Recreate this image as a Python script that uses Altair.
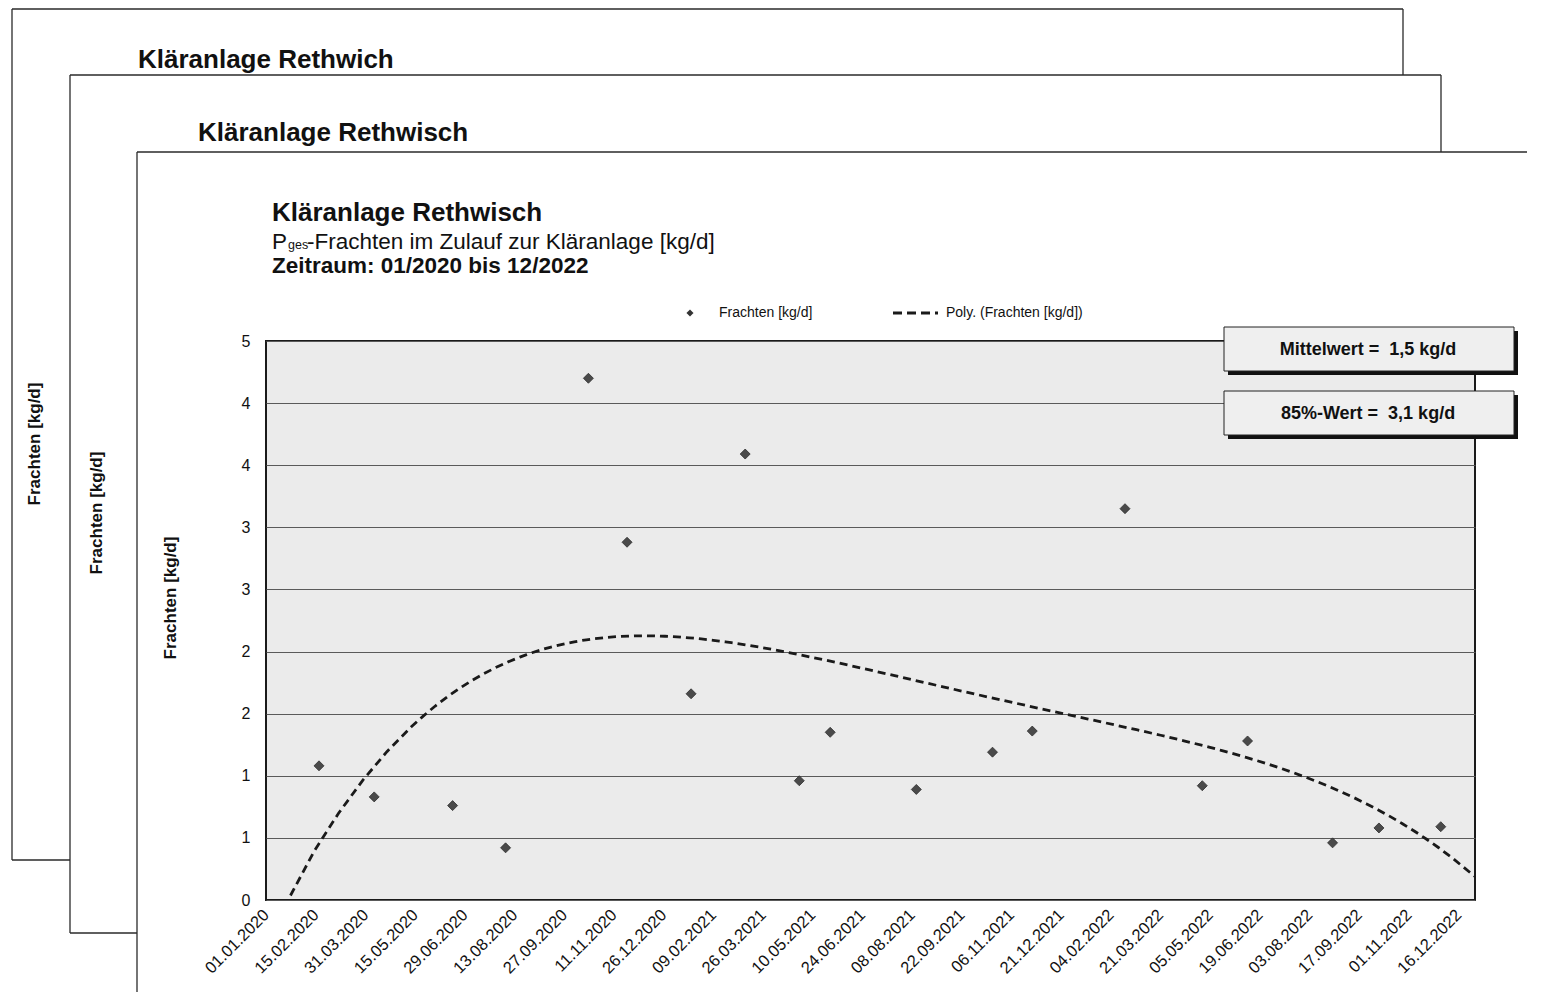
import altair as alt
import pandas as pd

# ---------------- data ----------------
sample_dates = ["2020-02-18", "2020-04-08", "2020-06-18", "2020-08-05", "2020-10-19",
                "2020-11-23", "2021-01-20", "2021-03-10", "2021-04-28", "2021-05-26",
                "2021-08-12", "2021-10-20", "2021-11-25", "2022-02-17", "2022-04-28",
                "2022-06-08", "2022-08-24", "2022-10-05", "2022-11-30"]
loads_kg_d = [1.08, 0.83, 0.76, 0.42, 4.20, 2.88, 1.66, 3.59, 0.96, 1.35,
              0.89, 1.19, 1.36, 3.15, 0.92, 1.28, 0.46, 0.58, 0.59]
y_tick_values = [0, 0.5, 1, 1.5, 2, 2.5, 3, 3.5, 4, 4.5]
axis_start = "2020-01-01"
axis_end = "2022-12-31"
tick_step_days = 45
trend_order = 4

title_main = "Kläranlage Rethwisch"
title_page1 = "Kläranlage Rethwich"
title_page2 = "Kläranlage Rethwisch"
y_title = "Frachten [kg/d]"
legend_points = "Frachten [kg/d]"
legend_trend = "Poly. (Frachten [kg/d])"
mean_text = "Mittelwert =\u00a0 1,5 kg/d"
p85_text = "85%-Wert =\u00a0 3,1 kg/d"

start = pd.Timestamp(axis_start)
end_day = (pd.Timestamp(axis_end) - start).days
df = pd.DataFrame({"date": pd.to_datetime(sample_dates), "load": loads_kg_d})
df["day"] = (df["date"] - start).dt.days
x_tick_days = list(range(0, end_day, tick_step_days))

# ---------------- layout ----------------
FONT = "Liberation Sans"
W, H = 1209, 559
OX, OY = 266, 341          # page position of plot origin
PAD = {"left": OX - 8, "top": OY - 8, "right": 52, "bottom": 92}


def gx(px):
    return px - OX


def gy(py):
    return py - OY


one = pd.DataFrame({"k": [0]})


def txt(s, px, py, size, weight="normal", align="left", baseline="alphabetic", angle=0, color="#111"):
    return alt.Chart(one).mark_text(text=s, fontSize=size, fontWeight=weight, align=align,
                                    baseline=baseline, angle=angle, font=FONT, color=color).encode(
        x=alt.value(gx(px)), y=alt.value(gy(py)))


def seg(x1, y1, x2, y2, color="#2a2a2a", width=1.3, dash=None):
    kw = dict(color=color, strokeWidth=width)
    if dash:
        kw["strokeDash"] = dash
    return alt.Chart(one).mark_rule(**kw).encode(
        x=alt.value(gx(x1)), x2=alt.value(gx(x2)), y=alt.value(gy(y1)), y2=alt.value(gy(y2)))


def box(x1, y1, x2, y2, fill, stroke=None, sw=0):
    kw = dict(fill=fill)
    if stroke:
        kw.update(stroke=stroke, strokeWidth=sw)
    return alt.Chart(one).mark_rect(**kw).encode(
        x=alt.value(gx(x1)), x2=alt.value(gx(x2)), y=alt.value(gy(y1)), y2=alt.value(gy(y2)))


# stacked page outlines (visible parts only)
frames = [
    seg(12, 9, 1403, 9), seg(12, 9, 12, 860), seg(1403, 9, 1403, 75), seg(12, 860, 70, 860),
    seg(70, 75, 1441, 75), seg(70, 75, 70, 933), seg(1441, 75, 1441, 152), seg(70, 933, 137, 933),
    seg(137, 152, 1560, 152), seg(137, 152, 137, 1010),
]

page_texts = [
    txt(title_page1, 138, 68, 26, "bold"),
    txt(title_page2, 198, 141, 26, "bold"),
    txt(y_title, 35, 444, 17, "bold", align="center", baseline="middle", angle=270),
    txt(y_title, 97, 513, 17, "bold", align="center", baseline="middle", angle=270),
    txt(title_main, 272, 221, 26, "bold"),
    txt("P", 272, 249, 22.5),
    txt("ges", 288, 249, 12.5),
    txt("-Frachten im Zulauf zur Kläranlage [kg/d]", 307, 249, 22.5),
    txt("Zeitraum: 01/2020 bis 12/2022", 272, 273, 22.5, "bold"),
    txt(y_title, 171, 598, 17, "bold", align="center", baseline="middle", angle=270),
]

xscale = alt.Scale(domain=[0, end_day], nice=False, zero=False)
yscale = alt.Scale(domain=[0, 4.5], nice=False)

xaxis = alt.Axis(values=x_tick_days,
                 labelExpr="timeFormat(datetime(2020, 0, 1 + datum.value), '%d.%m.%Y')",
                 labelAngle=315, labelAlign="right", labelBaseline="middle", labelPadding=12,
                 labelFontSize=16.5, labelFont=FONT, labelColor="#111", labelFlush=False,
                 labelOverlap=False, ticks=False, domain=False, grid=False, title=None)
yaxis = alt.Axis(values=y_tick_values, format=".0f", labelFontSize=16, labelFont=FONT,
                 labelColor="#111", labelPadding=16, labelOverlap=False, ticks=False,
                 domain=False, grid=True, gridColor="#5a5a5a", gridWidth=1, title=None)

base = alt.Chart(df)

points = base.mark_point(shape="diamond", filled=True, size=100, color="#4a4a4a",
                         stroke="#2e2e2e", strokeWidth=0.8, opacity=1).encode(
    x=alt.X("day:Q", scale=xscale, axis=xaxis),
    y=alt.Y("load:Q", scale=yscale, axis=yaxis),
)

trend = base.transform_regression("day", "load", method="poly", order=trend_order,
                                  extent=[0, end_day]).mark_line(
    clip=True, color="#1a1a1a", strokeWidth=2.8, strokeDash=[8, 5]).encode(
    x=alt.X("day:Q", scale=xscale), y=alt.Y("load:Q", scale=yscale))

legend = [
    alt.Chart(one).mark_point(shape="diamond", filled=True, size=50, color="#333", opacity=1).encode(
        x=alt.value(gx(690)), y=alt.value(gy(313))),
    txt(legend_points, 719, 313, 14, baseline="middle"),
    seg(893, 313, 938, 313, color="#1a1a1a", width=2.8, dash=[9, 5]),
    txt(legend_trend, 946, 313, 14, baseline="middle"),
]

boxes = [
    box(1228, 331, 1518, 375, "#111"),
    box(1224, 327, 1514, 371, "#efefef", "#222", 1),
    txt(mean_text, 1368, 350, 18, "bold", align="center", baseline="middle"),
    box(1228, 395, 1518, 439, "#111"),
    box(1224, 391, 1514, 435, "#efefef", "#222", 1),
    txt(p85_text, 1368, 414, 18, "bold", align="center", baseline="middle"),
]

chart = alt.layer(*frames, *page_texts, points, trend, *legend, *boxes).properties(
    width=W, height=H, autosize=alt.AutoSizeParams(type="none"), padding=PAD,
    background="white",
).configure_view(fill="#ebebeb", stroke="#1a1a1a", strokeWidth=2)

chart.save("out.html", embed_options={"renderer": "svg", "actions": False})
